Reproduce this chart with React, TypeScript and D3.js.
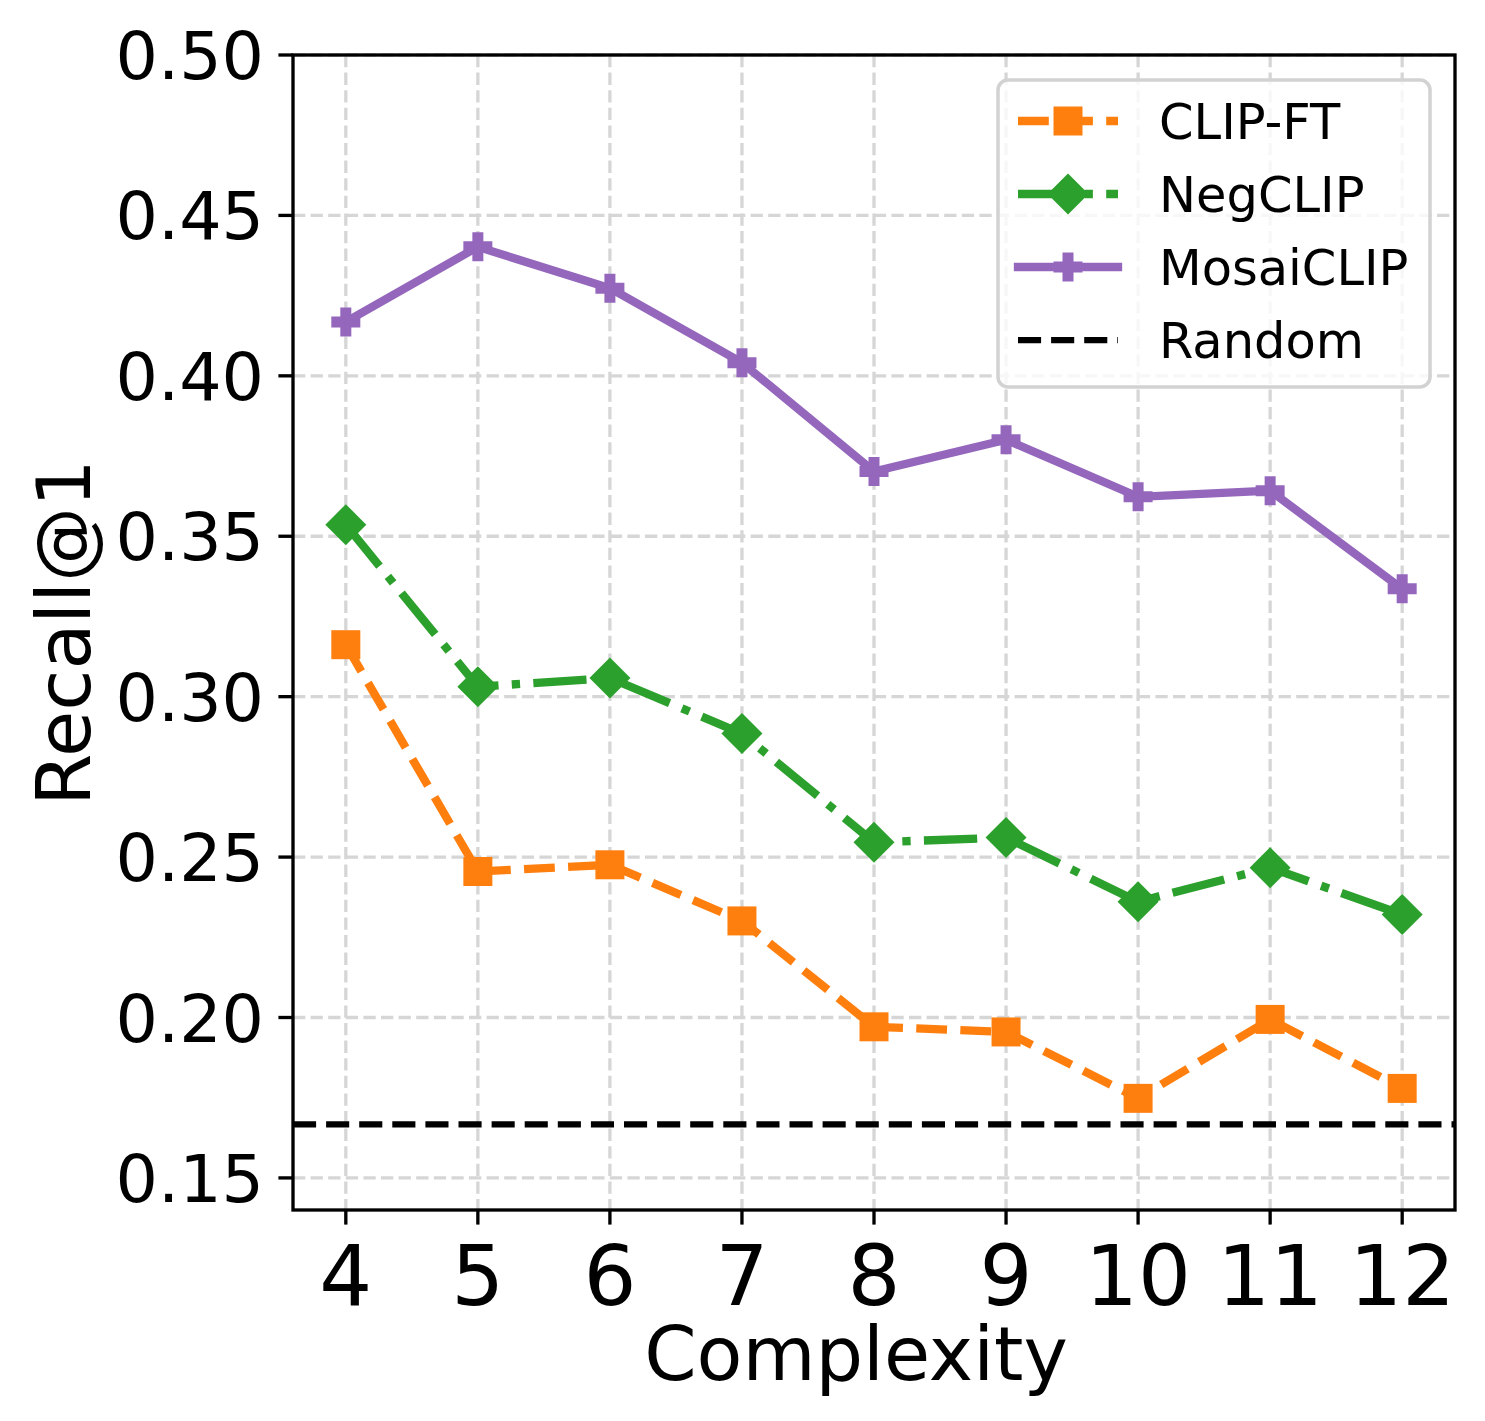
import React from 'react';
import { scaleLinear, line } from 'd3';

const complexity = [4, 5, 6, 7, 8, 9, 10, 11, 12];
const clipFT = [0.3162, 0.2455, 0.2476, 0.2301, 0.1971, 0.1955, 0.1748, 0.1994, 0.1779];
const negCLIP = [0.3536, 0.3031, 0.3058, 0.2885, 0.2546, 0.2561, 0.2361, 0.2467, 0.2321];
const mosaiCLIP = [0.4168, 0.4402, 0.4273, 0.4041, 0.3702, 0.3801, 0.3623, 0.3642, 0.3336];
const randomLevel = 1 / 6;
const yTicks = [0.15, 0.2, 0.25, 0.3, 0.35, 0.4, 0.45, 0.5];
const legendLabels = ['CLIP-FT', 'NegCLIP', 'MosaiCLIP', 'Random'];

const W = 1485;
const H = 1421;
const left = 293, right = 1455, top = 55, bottom = 1210;
const FONT = 'DejaVu Sans, sans-serif';

type Marker = 'square' | 'diamond' | 'plus';

interface Series {
  label: string;
  values: number[];
  color: string;
  dash: string;
  marker: Marker;
}

const series: Series[] = [
  { label: legendLabels[0], values: clipFT, color: '#ff7f0e', dash: '30.8,13.3', marker: 'square' },
  { label: legendLabels[1], values: negCLIP, color: '#2ca02c', dash: '53.3,13.3,8.3,13.3', marker: 'diamond' },
  { label: legendLabels[2], values: mosaiCLIP, color: '#9467bd', dash: 'none', marker: 'plus' },
];

// marker shapes drawn around (0,0)
const markerPath = (m: Marker): string => {
  if (m === 'square') {
    const s = 14.5;
    return `M${-s},${-s}H${s}V${s}H${-s}Z`;
  }
  if (m === 'diamond') {
    const s = 20.5;
    return `M0,${-s}L${s},0L0,${s}L${-s},0Z`;
  }
  const s = 14.5, a = 5.5;
  return `M${-a},${-s}H${a}V${-a}H${s}V${a}H${a}V${s}H${-a}V${a}H${-s}V${-a}H${-a}Z`;
};

const App: React.FC = () => {
  const x = scaleLinear().domain([3.6, 12.4]).range([left, right]);
  const y = scaleLinear().domain([0.14, 0.5]).range([bottom, top]);

  const pathFor = (vals: number[]) =>
    line<number>()
      .x((_, i) => x(complexity[i]))
      .y(d => y(d))(vals) || '';

  const legendX0 = 1018, legendX1 = 1118, legendTextX = 1159;
  const legendRows = [121, 194, 267, 340];

  return (
    <svg
      width={W}
      height={H}
      viewBox={`0 0 ${W} ${H}`}
      style={{ position: 'absolute', left: 0, top: 0, background: '#fff' }}
      fontFamily={FONT}
    >
      <rect x={0} y={0} width={W} height={H} fill="#fff" />

      {/* grid */}
      <g stroke="#d6d6d6" strokeWidth={3.3} strokeDasharray="12.3,5.3">
        {complexity.map(c => (
          <line key={`gx${c}`} x1={x(c)} x2={x(c)} y1={top} y2={bottom} />
        ))}
        {yTicks.map(t => (
          <line key={`gy${t}`} x1={left} x2={right} y1={y(t)} y2={y(t)} />
        ))}
      </g>

      {/* series */}
      {series.map(s => (
        <g key={s.label}>
          <path
            d={pathFor(s.values)}
            fill="none"
            stroke={s.color}
            strokeWidth={8.33}
            strokeDasharray={s.dash}
            strokeLinejoin="round"
            strokeLinecap={s.dash === 'none' ? 'square' : 'butt'}
          />
          {s.values.map((v, i) => (
            <path
              key={i}
              d={markerPath(s.marker)}
              transform={`translate(${x(complexity[i])},${y(v)})`}
              fill={s.color}
            />
          ))}
        </g>
      ))}

      {/* random baseline */}
      <line
        x1={left}
        x2={right}
        y1={y(randomLevel)}
        y2={y(randomLevel)}
        stroke="#000"
        strokeWidth={6.25}
        strokeDasharray="23.1,10"
      />

      {/* spines */}
      <rect x={left} y={top} width={right - left} height={bottom - top} fill="none" stroke="#000" strokeWidth={3.33} />

      {/* y axis ticks */}
      {yTicks.map(t => (
        <g key={`yt${t}`}>
          <line x1={left - 14.6} x2={left} y1={y(t)} y2={y(t)} stroke="#000" strokeWidth={3.33} />
          <text x={left - 29} y={y(t) + 24} textAnchor="end" fontSize={66.7} fill="#000">
            {t.toFixed(2)}
          </text>
        </g>
      ))}

      {/* x axis ticks */}
      {complexity.map(c => (
        <g key={`xt${c}`}>
          <line x1={x(c)} x2={x(c)} y1={bottom} y2={bottom + 14.6} stroke="#000" strokeWidth={3.33} />
          <text x={x(c)} y={1305} textAnchor="middle" fontSize={83.3} fill="#000">
            {c}
          </text>
        </g>
      ))}

      {/* axis labels */}
      <text x={856} y={1380} textAnchor="middle" fontSize={75} fill="#000">Complexity</text>
      <text
        transform={`translate(90,${(top + bottom) / 2}) rotate(-90)`}
        textAnchor="middle"
        fontSize={75}
        fill="#000"
      >
        Recall@1
      </text>

      {/* legend */}
      <rect x={998} y={80} width={432} height={307} rx={10} fill="#fff" fillOpacity={0.8} stroke="#d2d2d2" strokeWidth={3.5} />
      {series.map((s, i) => (
        <g key={`lg${s.label}`}>
          <line
            x1={legendX0}
            x2={legendX1}
            y1={legendRows[i]}
            y2={legendRows[i]}
            stroke={s.color}
            strokeWidth={8.33}
            strokeDasharray={s.dash}
            strokeLinecap={s.dash === 'none' ? 'square' : 'butt'}
          />
          <path
            d={markerPath(s.marker)}
            transform={`translate(${(legendX0 + legendX1) / 2},${legendRows[i]})`}
            fill={s.color}
          />
          <text x={legendTextX} y={legendRows[i] + 18} fontSize={49.5} fill="#000">{s.label}</text>
        </g>
      ))}
      <line
        x1={legendX0}
        x2={legendX1}
        y1={legendRows[3]}
        y2={legendRows[3]}
        stroke="#000"
        strokeWidth={6.25}
        strokeDasharray="23.1,10"
      />
      <text x={legendTextX} y={legendRows[3] + 18} fontSize={49.5} fill="#000">{legendLabels[3]}</text>
    </svg>
  );
};

export default App;
